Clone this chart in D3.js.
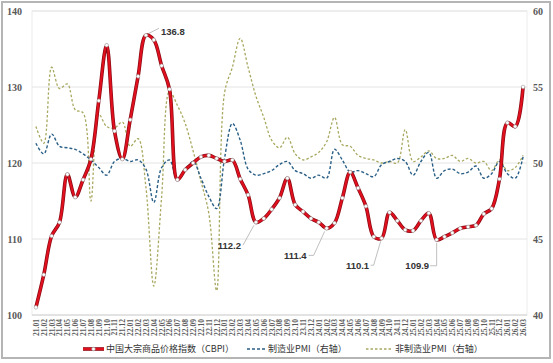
<!DOCTYPE html>
<meta charset="utf-8">
<style>
body { margin: 0; background: #fff; }
.tick text { font-family: "Liberation Serif", "DejaVu Serif", serif; font-weight: bold; fill: #595959; }
.legend text { font-family: "Noto Sans CJK SC", sans-serif; font-size: 9px; fill: #333; }
.ann { font-family: "Liberation Sans", Arial, sans-serif; font-weight: bold; font-size: 9.5px; fill: #333; }
</style>
<svg width="553" height="363"></svg>
<script src="https://d3js.org/d3.v7.min.js"></script>
<script>

var years = ["21", "22", "23", "24", "25", "26"];
var months = ["01","02","03","04","05","06","07","08","09","10","11","12"];

// 21.01 .. 26.03
var cats = [];
years.forEach(function(y) {
  months.forEach(function(m) {
    if (y == "26" && +m > 3) return;
    cats.push(y + "." + m);
  });
});

var cbpi = [101.0, 105.3, 110.4, 112.2, 118.5, 115.5, 117.8, 120.5, 128.2, 135.5, 124.2, 120.5,
            125.7, 131.4, 136.8, 136.2, 132.8, 129.7, 117.8, 119.1, 120.0, 120.8, 121.0, 120.6,
            120.2, 120.4, 117.9, 115.8, 112.2, 112.7, 113.9, 115.4, 118.0, 114.5, 113.6, 112.7,
            112.2, 111.4, 112.1, 115.4, 118.8, 116.7, 114.3, 110.3, 110.1, 113.5, 112.4, 111.2,
            111.1, 112.4, 113.4, 109.9, 110.3, 110.8, 111.4, 111.6, 111.8, 113.3, 114.0, 117.9,
            125.3, 124.8, 130.0];

var pmiMfg = [51.3, 50.6, 51.9, 51.1, 51.0, 50.9, 50.6, 50.2, 49.7, 49.2, 50.1, 50.3,
              50.1, 50.2, 49.6, 47.4, 49.7, 50.2, 48.9, 49.5, 50.1, 49.0, 47.8, 47.0,
              50.3, 52.6, 51.5, 49.6, 49.2, 49.3, 49.5, 49.9, 50.1, 49.5, 49.3, 49.0,
              49.2, 49.0, 50.9, 50.2, 49.4, 49.5, 49.3, 49.1, 49.9, 50.1, 50.3, 50.1,
              49.2, 50.1, 50.7, 49.0, 49.5, 49.6, 49.3, 49.4, 49.8, 49.0, 49.3, 50.1,
              49.3, 49.0, 50.4];

var pmiNonMfg = [52.4, 51.3, 56.3, 54.9, 55.2, 53.5, 53.3, 47.5, 53.2, 52.4, 52.3, 52.7,
                 51.1, 51.6, 48.4, 41.9, 47.8, 54.7, 53.8, 52.6, 50.8, 48.8, 46.7, 41.6,
                 54.6, 56.3, 58.2, 56.3, 54.4, 53.0, 51.5, 51.0, 51.7, 50.6, 50.2, 50.4,
                 50.7, 51.4, 53.0, 51.2, 51.1, 50.5, 50.3, 50.2, 50.0, 50.1, 50.0, 52.2,
                 50.1, 50.4, 50.8, 50.3, 50.3, 50.5, 50.1, 50.3, 50.0, 50.1, 49.5, 50.2,
                 49.5, 49.7, 50.5];

var leftTicks = [100, 110, 120, 130, 140];
var rightTicks = [40, 45, 50, 55, 60];

// points that get a value label
var labelled = [14, 28, 37, 44, 51];

var legendNames = ["中国大宗商品价格指数（CBPI）", "制造业PMI（右轴）", "非制造业PMI（右轴）"];

var svg = d3.select("svg");

var plotL = 32, plotR = 527, plotT = 11, plotB = 315;

var x = d3.scalePoint().domain(cats).range([plotL, plotR]).padding(0.5);
var yL = d3.scaleLinear().domain([100, 140]).range([plotB, plotT]);
var yR = d3.scaleLinear().domain([40, 60]).range([plotB, plotT]);

// outer frame
svg.append("rect")
    .attr("x", 2).attr("y", 2).attr("width", 548).attr("height", 356)
    .attr("fill", "#fff").attr("stroke", "#b5b5b5").attr("stroke-width", 2);

// plot box
svg.append("rect")
    .attr("x", plotL).attr("y", plotT).attr("width", plotR - plotL).attr("height", plotB - plotT)
    .attr("fill", "none").attr("stroke", "#ececec");

// grid
svg.append("g").selectAll("line")
  .data(leftTicks)
  .enter().append("line")
    .attr("x1", plotL).attr("x2", plotR)
    .attr("y1", function(d) { return yL(d); })
    .attr("y2", function(d) { return yL(d); })
    .attr("stroke", function(d) { return d == 100 ? "#d0d0d0" : "#e4e4e4"; });

// left axis
svg.append("g")
    .attr("transform", "translate(" + (plotL - 10) + ",0)")
    .call(d3.axisLeft(yL).tickValues(leftTicks).tickSize(0).tickPadding(0))
    .call(function(g) { g.select(".domain").remove(); })
    .selectAll("text").attr("font-size", 10);

// right axis
svg.append("g")
    .attr("transform", "translate(" + (plotR + 6) + ",0)")
    .call(d3.axisRight(yR).tickValues(rightTicks).tickSize(0).tickPadding(0))
    .call(function(g) { g.select(".domain").remove(); })
    .selectAll("text").attr("font-size", 10);

// x labels, rotated to read upwards
var xg = svg.append("g")
    .attr("transform", "translate(0," + (plotB + 3) + ")")
    .call(d3.axisBottom(x).tickSize(0).tickPadding(0));
xg.select(".domain").remove();
xg.selectAll(".tick text")
    .attr("font-size", 7.5)
    .attr("font-weight", "normal")
    .attr("transform", "rotate(-90)")
    .attr("text-anchor", "end")
    .attr("x", -1)
    .attr("y", 0)
    .attr("dy", "0.33em");

var curve = d3.curveCatmullRom.alpha(0.5);

var lineR = d3.line()
    .x(function(d, i) { return x(cats[i]); })
    .y(function(d) { return yR(d); })
    .curve(curve);

var lineL = d3.line()
    .x(function(d, i) { return x(cats[i]); })
    .y(function(d) { return yL(d); })
    .curve(curve);

svg.append("path")
    .datum(pmiNonMfg)
    .attr("d", lineR)
    .attr("fill", "none")
    .attr("stroke", "#a8a860")
    .attr("stroke-width", 1.3)
    .attr("stroke-dasharray", "2.5,2");

svg.append("path")
    .datum(pmiMfg)
    .attr("d", lineR)
    .attr("fill", "none")
    .attr("stroke", "#2a5f86")
    .attr("stroke-width", 1.4)
    .attr("stroke-dasharray", "3,2");

svg.append("path")
    .datum(cbpi)
    .attr("d", lineL)
    .attr("fill", "none")
    .attr("stroke", "#8a0a14")
    .attr("stroke-width", 3.6)
    .attr("stroke-linejoin", "round");

svg.append("path")
    .datum(cbpi)
    .attr("d", lineL)
    .attr("fill", "none")
    .attr("stroke", "#e0101e")
    .attr("stroke-width", 2.2)
    .attr("stroke-linejoin", "round");

svg.append("g").selectAll("circle")
  .data(cbpi)
  .enter().append("circle")
    .attr("cx", function(d, i) { return x(cats[i]); })
    .attr("cy", function(d) { return yL(d); })
    .attr("r", 1.8)
    .attr("fill", "#fff")
    .attr("stroke", "#9a9a9a")
    .attr("stroke-width", 0.6);

// value labels with leader lines
var annLayout = {
  14: {dx: 15, dy: -4, anchor: "start", lead: [[3, -2], [13, -7]]},
  28: {dx: -15, dy: 23, anchor: "end", lead: [[-13, 23], [-2, 3]]},
  37: {dx: -20, dy: 27, anchor: "end", lead: [[-18, 27], [-13, 27], [-2, 3]]},
  44: {dx: -12.5, dy: 27, anchor: "end", lead: [[-11, 27], [-8, 27], [-1, 3]]},
  51: {dx: -7.5, dy: 26, anchor: "end", lead: [[-6.5, 26], [0, 26], [0, 3]]}
};

var ann = svg.append("g");
labelled.forEach(function(i) {
  var px = x(cats[i]), py = yL(cbpi[i]), a = annLayout[i];
  ann.append("path")
      .attr("d", d3.line()(a.lead.map(function(p) { return [px + p[0], py + p[1]]; })))
      .attr("fill", "none")
      .attr("stroke", "#b0b0b0")
      .attr("stroke-width", 0.8);
  ann.append("text")
      .attr("class", "ann")
      .attr("x", px + a.dx)
      .attr("y", py + a.dy)
      .attr("dy", "0.35em")
      .attr("text-anchor", a.anchor)
      .text(d3.format(".1f")(cbpi[i]));
});

// legend
var lg = svg.append("g").attr("class", "legend").attr("transform", "translate(0,349)");
var legX = [83, 247, 366];
var legW = [21, 19, 27];

lg.append("line").attr("x1", legX[0]).attr("x2", legX[0] + legW[0])
    .attr("stroke", "#8a0a14").attr("stroke-width", 3.6);
lg.append("line").attr("x1", legX[0]).attr("x2", legX[0] + legW[0])
    .attr("stroke", "#e0101e").attr("stroke-width", 2.2);
lg.append("circle").attr("cx", legX[0] + legW[0] / 2).attr("r", 1.8)
    .attr("fill", "#fff").attr("stroke", "#9a9a9a").attr("stroke-width", 0.6);
lg.append("line").attr("x1", legX[1]).attr("x2", legX[1] + legW[1])
    .attr("stroke", "#2a5f86").attr("stroke-width", 1.4).attr("stroke-dasharray", "3,2");
lg.append("line").attr("x1", legX[2]).attr("x2", legX[2] + legW[2])
    .attr("stroke", "#a8a860").attr("stroke-width", 1.3).attr("stroke-dasharray", "2.5,2");

lg.selectAll("text")
  .data(legendNames)
  .enter().append("text")
    .attr("x", function(d, i) { return legX[i] + legW[i] + 2; })
    .attr("dy", "0.35em")
    .text(function(d) { return d; });

</script>
